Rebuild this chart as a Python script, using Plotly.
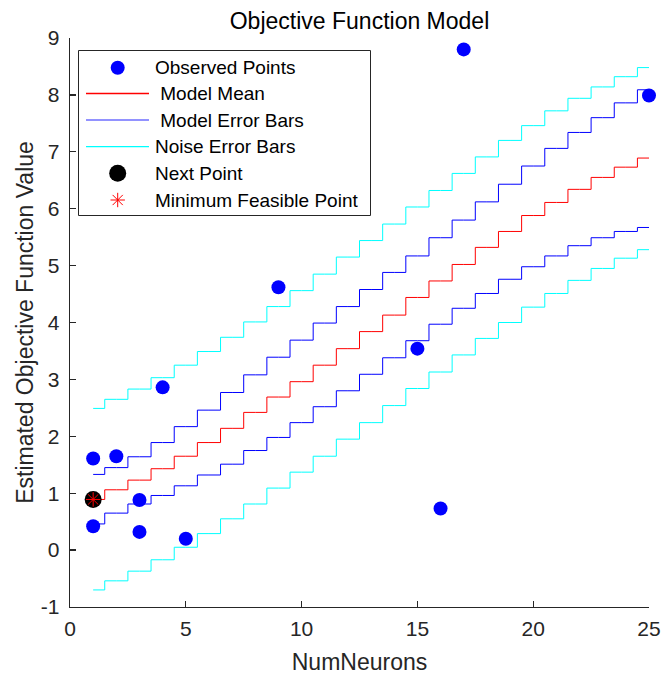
import plotly.graph_objects as go

# ---------------- data ----------------
num_neurons = list(range(1, 26))
model_mean = [0.89, 1.06, 1.23, 1.43, 1.65, 1.89, 2.14, 2.42, 2.69, 2.96, 3.25, 3.54, 3.84,
              4.13, 4.44, 4.73, 5.02, 5.32, 5.60, 5.88, 6.11, 6.34, 6.55, 6.73, 6.89]
model_upper = [1.33, 1.45, 1.64, 1.89, 2.17, 2.46, 2.77, 3.08, 3.39, 3.69, 3.99, 4.28, 4.58,
               4.88, 5.17, 5.49, 5.80, 6.12, 6.43, 6.75, 7.06, 7.34, 7.60, 7.86, 8.09]
model_lower = [0.46, 0.65, 0.81, 0.96, 1.13, 1.32, 1.51, 1.75, 1.98, 2.24, 2.52, 2.80, 3.09,
               3.38, 3.68, 3.97, 4.25, 4.51, 4.76, 4.98, 5.17, 5.35, 5.49, 5.60, 5.67]
noise_upper = [2.49, 2.65, 2.83, 3.03, 3.25, 3.49, 3.74, 4.01, 4.28, 4.56, 4.85, 5.15, 5.44,
               5.73, 6.03, 6.32, 6.62, 6.91, 7.20, 7.46, 7.72, 7.94, 8.14, 8.32, 8.48]
noise_lower = [-0.70, -0.54, -0.37, -0.17, 0.05, 0.29, 0.55, 0.81, 1.09, 1.37, 1.65, 1.95, 2.24,
               2.54, 2.84, 3.13, 3.43, 3.72, 4.00, 4.27, 4.51, 4.74, 4.95, 5.13, 5.28]

obs_x = [1, 2, 1, 3, 3, 4, 5, 9, 15, 16, 17, 25]
obs_y = [1.61, 1.65, 0.42, 0.88, 0.32, 2.86, 0.20, 4.62, 3.54, 0.73, 8.80, 7.99]

next_x = [1]
next_y = [0.89]
minfeas_x = [1]
minfeas_y = [0.89]

x_ticks = [0, 5, 10, 15, 20, 25]
y_ticks = [-1, 0, 1, 2, 3, 4, 5, 6, 7, 8, 9]
y_tick_labels = ["-1", "0", "1", "2", "3", "4", "5", "6", "7", "8", "9"]

legend_labels = ["Observed Points", " Model Mean", " Model Error Bars",
                 "Noise Error Bars", "Next Point", "Minimum Feasible Point"]

# ---------------- styles ----------------
FONT = "Liberation Sans, Arial, Helvetica, sans-serif"
AX = "#262626"
RED = "rgb(255,0,0)"
BLUE = "rgb(0,0,255)"
CYAN = "rgb(0,255,255)"

fig = go.Figure()


def step_line(yvals, color):
    fig.add_trace(go.Scatter(x=num_neurons, y=yvals, mode="lines",
                             line=dict(color=color, width=1, shape="hvh"),
                             showlegend=False, hoverinfo="skip"))


step_line(model_mean, RED)
step_line(model_upper, BLUE)
step_line(model_lower, BLUE)
step_line(noise_upper, CYAN)
step_line(noise_lower, CYAN)

fig.add_trace(go.Scatter(x=obs_x, y=obs_y, mode="markers", cliponaxis=False,
                         marker=dict(color=BLUE, size=14, line=dict(width=0)),
                         showlegend=False, hoverinfo="skip"))
fig.add_trace(go.Scatter(x=next_x, y=next_y, mode="markers", cliponaxis=False,
                         marker=dict(color="black", size=17, line=dict(width=0)),
                         showlegend=False, hoverinfo="skip"))
fig.add_trace(go.Scatter(x=minfeas_x, y=minfeas_y, mode="markers", cliponaxis=False,
                         marker=dict(symbol="asterisk-open", color=RED, size=12,
                                     line=dict(color=RED, width=1)),
                         showlegend=False, hoverinfo="skip"))

# ---------------- hand-made legend (pixel coordinates via hidden overlay axes) ----------------
L_LEFT, L_RIGHT, L_TOP, L_BOTTOM = 78.5, 370.5, 50.5, 215.5
ROW_Y = [67.7, 93.5, 120.0, 146.7, 173.3, 200.0]
TEXT_X = 152.5
LINE_X0, LINE_X1, MARK_X = 86, 149, 117.7

legend_styles = [
    ("marker", dict(color=BLUE, size=14, symbol="circle")),
    ("line", RED),
    ("line", "rgb(110,110,255)"),
    ("line", CYAN),
    ("marker", dict(color="black", size=17, symbol="circle")),
    ("marker", dict(color=RED, size=12, symbol="asterisk-open", line=dict(color=RED, width=1))),
]
for (kind, style), ry in zip(legend_styles, ROW_Y):
    if kind == "line":
        fig.add_trace(go.Scatter(x=[LINE_X0, LINE_X1], y=[ry, ry], mode="lines",
                                 line=dict(color=style, width=1.3),
                                 xaxis="x2", yaxis="y2", showlegend=False, hoverinfo="skip"))
    else:
        fig.add_trace(go.Scatter(x=[MARK_X], y=[ry], mode="markers", marker=style,
                                 xaxis="x2", yaxis="y2", showlegend=False, hoverinfo="skip"))

annotations = []
for label, ry in zip(legend_labels, ROW_Y):
    txt = "\u00a0" + label[1:] if label.startswith(" ") else label
    annotations.append(dict(x=TEXT_X, y=ry, xref="x2", yref="y2", text=txt,
                            showarrow=False, xanchor="left", yanchor="middle",
                            font=dict(family=FONT, size=19, color="black")))

shapes = [dict(type="rect", xref="x2", yref="y2", x0=L_LEFT, x1=L_RIGHT, y0=L_TOP, y1=L_BOTTOM,
               line=dict(color=AX, width=1), fillcolor="white", layer="below")]

axis_common = dict(showgrid=False, zeroline=False, showline=True, linecolor=AX, linewidth=1.3,
                   ticks="inside", ticklen=6, tickwidth=1.3, tickcolor=AX,
                   tickfont=dict(family=FONT, size=21, color=AX), mirror=False)

fig.update_layout(
    width=661, height=675,
    margin=dict(l=70, r=12, t=38, b=68, autoexpand=False),
    paper_bgcolor="white", plot_bgcolor="white",
    showlegend=False,
    title=dict(text="Objective Function Model", x=0.5, xref="paper", xanchor="center",
               y=1 - 21 / 675, yref="container", yanchor="middle",
               font=dict(family=FONT, size=23, color="black")),
    xaxis=dict(range=[0, 25], tickvals=x_ticks, ticklabelstandoff=2,
               title=dict(text="NumNeurons", standoff=15, font=dict(family=FONT, size=23, color=AX)),
               **axis_common),
    yaxis=dict(range=[-1, 9], tickvals=y_ticks, ticktext=y_tick_labels, ticklabelstandoff=5,
               title=dict(text="Estimated Objective Function Value", standoff=0,
                          font=dict(family=FONT, size=23, color=AX)),
               **axis_common),
    xaxis2=dict(overlaying="x", range=[70, 649], visible=False, fixedrange=True),
    yaxis2=dict(overlaying="y", range=[607, 38], visible=False, fixedrange=True),
    annotations=annotations,
    shapes=shapes,
)

fig.write_html("out.html", config={"displayModeBar": False, "staticPlot": True},
               post_script="document.body.style.margin='0';document.body.style.overflow='hidden';")
